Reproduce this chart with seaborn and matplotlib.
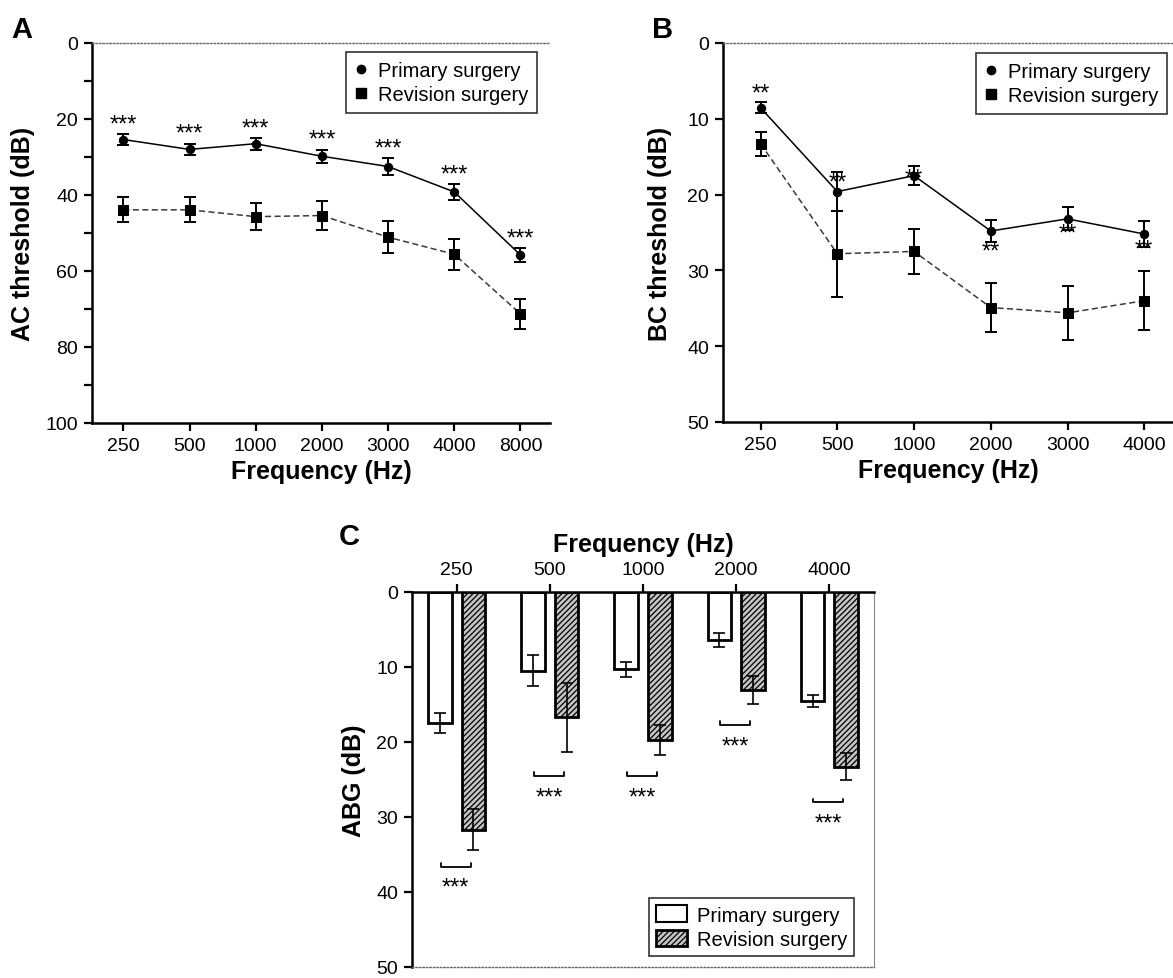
import numpy as np
import pandas as pd
import matplotlib
matplotlib.use('Agg')
import matplotlib.pyplot as plt
from matplotlib.lines import Line2D
from matplotlib.patches import Patch
import seaborn as sns

# Panel A: air conduction threshold
ac_freq = ['250', '500', '1000', '2000', '3000', '4000', '8000']
ac_primary = [25.4, 28.0, 26.5, 29.8, 32.5, 39.2, 55.8]
ac_primary_err = [1.55, 1.55, 1.6, 1.75, 2.2, 2.0, 1.95]
ac_revision = [43.9, 43.9, 45.7, 45.4, 51.1, 55.6, 71.3]
ac_revision_err = [3.3, 3.3, 3.6, 3.7, 4.2, 4.1, 4.0]
ac_stars = ['***'] * 7

# Panel B: bone conduction threshold
bc_freq = ['250', '500', '1000', '2000', '3000', '4000']
bc_primary = [8.55, 19.6, 17.5, 24.8, 23.2, 25.2]
bc_primary_err = [0.75, 2.6, 1.25, 1.45, 1.5, 1.7]
bc_revision = [13.3, 27.8, 27.5, 34.9, 35.6, 34.0]
bc_revision_err = [1.6, 5.65, 3.0, 3.25, 3.6, 3.9]
bc_stars = ['**'] * 6
bc_star_y = [6.0, 17.8, 17.3, 26.9, 24.5, 26.6]

# Panel C: air-bone gap
abg_freq = ['250', '500', '1000', '2000', '4000']
abg_primary = [17.5, 10.5, 10.3, 6.4, 14.5]
abg_primary_err = [1.35, 2.05, 1.0, 0.9, 0.8]
abg_revision = [31.7, 16.7, 19.7, 13.05, 23.3]
abg_revision_err = [2.75, 4.6, 2.0, 1.85, 1.8]
abg_stars = ['***'] * 5
abg_bracket_y = [36.6, 24.5, 24.5, 17.7, 28.0]

groups = ['Primary surgery', 'Revision surgery']

sns.set_theme(style='ticks')
plt.rcParams['font.family'] = ['Liberation Sans', 'DejaVu Sans']
plt.rcParams['hatch.linewidth'] = 0.9
plt.rcParams['text.color'] = 'black'
plt.rcParams['axes.labelcolor'] = 'black'

W, H = 1173, 979
fig = plt.figure(figsize=(W / 100, H / 100), dpi=100)


def px_axes(left, top, right, bottom):
    return fig.add_axes([left / W, 1 - bottom / H, (right - left) / W, (bottom - top) / H])


def style_axes(ax, top_dotted=True):
    for s in ['left', 'bottom', 'top']:
        ax.spines[s].set_linewidth(1.8)
        ax.spines[s].set_color('black')
    ax.spines['right'].set_visible(False)
    if top_dotted:
        ax.spines['top'].set_linestyle((0, (1, 1.5)))
        ax.spines['top'].set_linewidth(1.0)
        ax.spines['top'].set_color('#666666')
    ax.tick_params(axis='both', which='major', length=6, width=1.6, labelsize=14,
                   color='black', labelcolor='black', pad=4)
    ax.tick_params(axis='y', which='minor', length=6, width=1.6, color='black')
    ax.set_facecolor('white')
    ax.grid(False)


def line_panel(ax, freq, prim, prim_err, rev, rev_err):
    df = pd.DataFrame({'freq': freq * 2,
                       'threshold': prim + rev,
                       'group': [groups[0]] * len(freq) + [groups[1]] * len(freq)})
    sns.lineplot(data=df[df.group == groups[0]], x='freq', y='threshold', ax=ax,
                 sort=False, color='black', linewidth=1.1, marker='o', markersize=6,
                 markeredgecolor='black', legend=False)
    sns.lineplot(data=df[df.group == groups[1]], x='freq', y='threshold', ax=ax,
                 sort=False, color='#3a3a3a', linewidth=1.1, marker='s', markersize=6.5,
                 markerfacecolor='black', markeredgecolor='black', legend=False)
    ax.lines[-1].set_dashes((4, 2.2))
    ax.errorbar(freq, prim, yerr=prim_err, fmt='none', ecolor='black', elinewidth=1.4,
                capsize=4.5, capthick=1.4, zorder=5)
    ax.errorbar(freq, rev, yerr=rev_err, fmt='none', ecolor='black', elinewidth=1.4,
                capsize=4.5, capthick=1.4, zorder=5)


def line_legend(ax, anchor, transform):
    handles = [Line2D([], [], marker='o', color='black', linestyle='none', markersize=6),
               Line2D([], [], marker='s', color='black', linestyle='none', markersize=6.5)]
    leg = ax.legend(handles, groups, loc='upper right', bbox_to_anchor=anchor,
                    bbox_transform=transform, frameon=True, fancybox=False, fontsize=14.5,
                    handlelength=0.6, handletextpad=0.5, borderpad=0.45, labelspacing=0.25,
                    borderaxespad=0)
    leg.get_frame().set_edgecolor('black')
    leg.get_frame().set_linewidth(1.2)


# ---------------- Panel A ----------------
axA = px_axes(92, 44, 550, 424)
line_panel(axA, ac_freq, ac_primary, ac_primary_err, ac_revision, ac_revision_err)
axA.set_xlim(-0.473, 6.446)
axA.set_ylim(100, 0)
axA.set_yticks([0, 20, 40, 60, 80, 100])
axA.set_yticks([10, 30, 50, 70, 90], minor=True)
style_axes(axA)
for f, m, e, s in zip(ac_freq, ac_primary, ac_primary_err, ac_stars):
    axA.annotate(s, (f, m - e - 3.8), xytext=(0, -3.5), textcoords='offset points',
                 ha='center', va='center', fontsize=17)
axA.set_xlabel('Frequency (Hz)', fontsize=18, fontweight='bold')
axA.set_ylabel('AC threshold (dB)', fontsize=18, fontweight='bold')
axA.xaxis.set_label_coords(0.5, -0.095)
axA.yaxis.set_label_coords(-0.125, 0.5)
line_legend(axA, (537 / W, 1 - 53 / H), fig.transFigure)

# ---------------- Panel B ----------------
axB = px_axes(723, 44, 1173, 423)
line_panel(axB, bc_freq, bc_primary, bc_primary_err, bc_revision, bc_revision_err)
axB.set_xlim(-0.49, 5.375)
axB.set_ylim(50, 0)
axB.set_yticks([0, 10, 20, 30, 40, 50])
style_axes(axB)
for f, y, s in zip(bc_freq, bc_star_y, bc_stars):
    axB.annotate(s, (f, y), xytext=(0, -3.5), textcoords='offset points',
                 ha='center', va='center', fontsize=17)
axB.set_xlabel('Frequency (Hz)', fontsize=18, fontweight='bold')
axB.set_ylabel('BC threshold (dB)', fontsize=18, fontweight='bold')
axB.xaxis.set_label_coords(0.5, -0.095)
axB.yaxis.set_label_coords(-0.113, 0.5)
line_legend(axB, (1167 / W, 1 - 54 / H), fig.transFigure)

# ---------------- Panel C ----------------
axC = px_axes(412, 593, 874, 968)
df_c = pd.DataFrame({'freq': abg_freq * 2,
                     'abg': abg_primary + abg_revision,
                     'group': [groups[0]] * len(abg_freq) + [groups[1]] * len(abg_freq)})
sns.barplot(data=df_c, x='freq', y='abg', hue='group', hue_order=groups,
            palette={groups[0]: 'white', groups[1]: '#c4c4c4'}, width=0.72, gap=0.3,
            errorbar=None, edgecolor='black', linewidth=2, ax=axC, legend=False,
            saturation=1)
for bar in axC.containers[1]:
    bar.set_hatch('//////')
for cont, err in zip(axC.containers, [abg_primary_err, abg_revision_err]):
    xs = [b.get_x() + b.get_width() / 2 for b in cont]
    ys = [b.get_height() for b in cont]
    axC.errorbar(xs, ys, yerr=err, fmt='none', ecolor='black', elinewidth=1.2,
                 capsize=4.5, capthick=1.2, zorder=5)
c0 = axC.containers[0]
c1 = axC.containers[1]
for b0, b1, by, s in zip(c0, c1, abg_bracket_y, abg_stars):
    x0 = b0.get_x() + b0.get_width() / 2 + 0.01
    x1 = b1.get_x() + b1.get_width() / 2 - 0.03
    axC.plot([x0, x0, x1, x1], [by - 0.45, by, by, by - 0.45], color='black', lw=1.3)
    axC.annotate(s, ((x0 + x1) / 2, by + 2.2), xytext=(0, -3.5), textcoords='offset points',
                 ha='center', va='center', fontsize=17)
axC.set_xlim(-0.48, 4.48)
axC.set_ylim(50, 0)
axC.set_yticks([0, 10, 20, 30, 40, 50])
style_axes(axC, top_dotted=False)
axC.spines['bottom'].set_linestyle((0, (1, 1.5)))
axC.spines['bottom'].set_linewidth(1.0)
axC.spines['bottom'].set_color('#666666')
axC.spines['right'].set_visible(True)
axC.spines['right'].set_linewidth(0.8)
axC.spines['right'].set_color('#888888')
axC.xaxis.tick_top()
axC.xaxis.set_label_position('top')
axC.set_xlabel('Frequency (Hz)', fontsize=18, fontweight='bold')
axC.set_ylabel('ABG (dB)', fontsize=18, fontweight='bold')
axC.xaxis.set_label_coords(0.5, 1.108)
axC.yaxis.set_label_coords(-0.1, 0.5)
leg_handles = [Patch(facecolor='white', edgecolor='black', linewidth=1.5),
               Patch(facecolor='#c4c4c4', edgecolor='black', linewidth=2, hatch='//////')]
legC = axC.legend(leg_handles, groups, loc='lower right',
                  bbox_to_anchor=(854 / W, 1 - 957 / H), bbox_transform=fig.transFigure,
                  frameon=True, fancybox=False, fontsize=14.5, handlelength=1.5,
                  handleheight=0.9, handletextpad=0.5, borderpad=0.35, labelspacing=0.25,
                  borderaxespad=0)
legC.get_frame().set_edgecolor('black')
legC.get_frame().set_linewidth(1.2)

# panel letters
fig.text(11 / W, 1 - 38 / H, 'A', fontsize=21, fontweight='bold', va='baseline')
fig.text(652 / W, 1 - 38 / H, 'B', fontsize=21, fontweight='bold', va='baseline')
fig.text(339 / W, 1 - 545 / H, 'C', fontsize=21, fontweight='bold', va='baseline')

fig.savefig('out.png', dpi=100)
